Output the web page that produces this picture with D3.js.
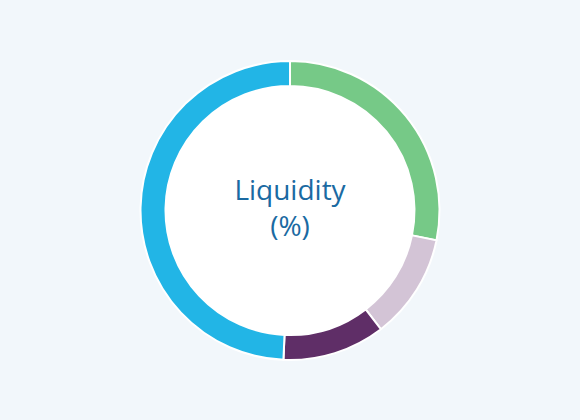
<!DOCTYPE html>
<html><head><meta charset="utf-8">
<script src="https://cdn.jsdelivr.net/npm/d3@7"></script>
<style>html,body{margin:0;padding:0;background:#f2f7fb;}svg{display:block;}</style>
</head><body>
<svg id="chart" width="580" height="420"></svg>
<script>
const categories = ["A", "B", "C", "D"];
const values = [28.2, 11.4, 11.1, 49.3];
const colors = ["#76c987", "#d3c4d6", "#5f2e67", "#22b5e6"];
const titleLines = ["Liquidity", "(%)"];

const svg = d3.select("#chart");
const cx = 290, cy = 210.5, outerR = 149.5, innerR = 124.5;
const g = svg.append("g").attr("transform", `translate(${cx},${cy})`);

const pie = d3.pie().sort(null).value(d => d.v);
const arc = d3.arc().innerRadius(innerR).outerRadius(outerR);
const data = categories.map((c, i) => ({c, v: values[i], col: colors[i]}));

g.append("circle").attr("r", innerR).attr("fill", "#ffffff");
g.selectAll("path").data(pie(data)).join("path")
  .attr("d", arc)
  .attr("fill", d => d.data.col)
  .attr("stroke", "#ffffff")
  .attr("stroke-width", 2);

g.selectAll("text").data(titleLines).join("text")
  .attr("x", 0)
  .attr("y", (d, i) => -10.5 + i * 36)
  .attr("text-anchor", "middle")
  .attr("font-family", "'Open Sans', sans-serif")
  .attr("font-size", 28)
  .attr("fill", "#1a6aa2")
  .text(d => d);
</script>
</body></html>
